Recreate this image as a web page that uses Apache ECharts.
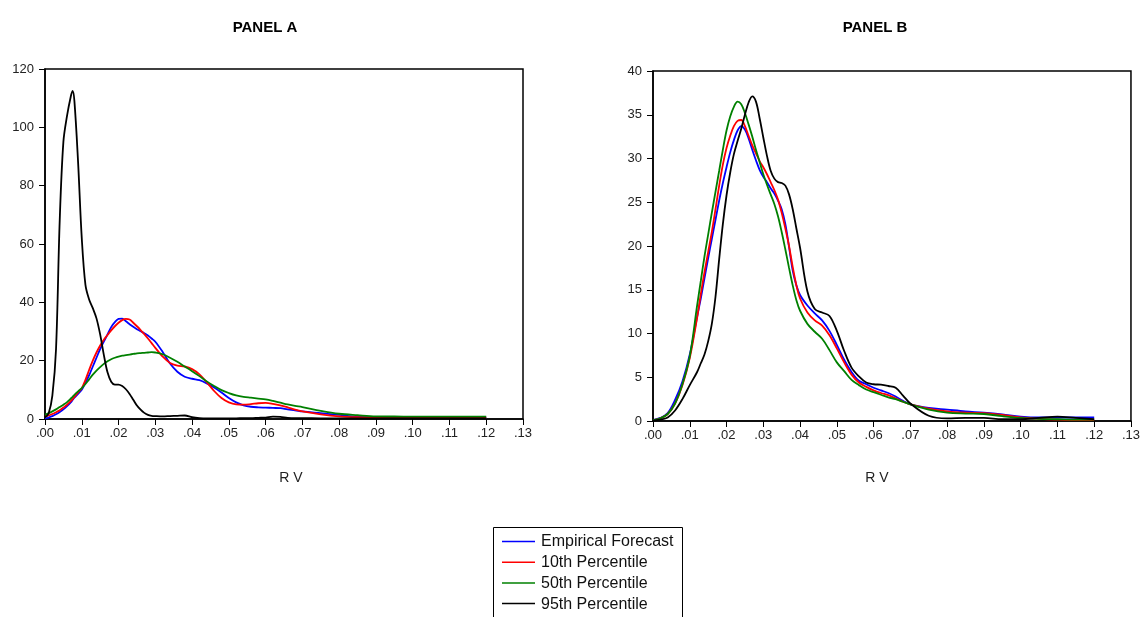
<!DOCTYPE html>
<html>
<head>
<meta charset="utf-8">
<script src="https://cdn.jsdelivr.net/npm/echarts@6/dist/echarts.min.js"></script>
<style>html,body{margin:0;padding:0;background:#fff}#c{width:1143px;height:617px}</style>
</head>
<body>
<div id="c"></div>
<script>
// ---- data ----
const seriesNames = ['Empirical Forecast', '10th Percentile', '50th Percentile', '95th Percentile'];
const seriesColors = ['#0000ff', '#ff0000', '#008000', '#000000'];
const panelTitles = ['PANEL A', 'PANEL B'];
const axisTitle = 'R V';
const xTickLabels = ['.00', '.01', '.02', '.03', '.04', '.05', '.06', '.07', '.08', '.09', '.10', '.11', '.12', '.13'];

// Panel A
const xA = [0, .001, .002, .003, .004, .005, .006, .007, .0075,
  .008, .009, .010, .011, .012, .013, .014, .015, .016, .017, .018, .019, .020, .021, .022, .023, .024, .025, .026, .027, .028, .029, .030,
  .032, .034, .036, .038, .040, .042, .044, .046, .048, .050, .052, .054, .056, .058, .060, .062, .064, .066, .068, .070,
  .075, .080, .085, .090, .095, .100, .105, .110, .115, .120];
const aEmpirical = [0.2, 0.5, 1.0, 1.6, 2.4, 3.3, 4.4, 5.7, 6.5,
  7.3, 8.6, 10.0, 12.5, 15.0, 18.0, 21.0, 24.0, 26.5, 29.0, 31.5, 33.2, 34.3, 34.4, 33.5, 32.5, 31.6, 30.8, 30.1, 29.4, 28.6, 27.6, 26.5,
  23.0, 19.0, 16.2, 14.5, 13.8, 13.3, 12.2, 10.8, 9.1, 7.2, 5.7, 4.7, 4.2, 4.0, 3.9, 3.8, 3.7, 3.3, 3.0, 2.6,
  2.0, 1.4, 0.8, 0.6, 0.5, 0.5, 0.5, 0.5, 0.5, 0.5];
const aP10 = [0.8, 1.2, 1.7, 2.3, 3.0, 3.9, 4.9, 6.1, 6.8,
  7.6, 9.1, 10.6, 13.4, 16.8, 20.0, 22.8, 25.2, 27.2, 28.8, 30.4, 31.8, 33.0, 33.9, 34.3, 34.1, 33.0, 31.8, 30.5, 29.1, 27.6, 26.0, 24.4,
  21.4, 19.2, 18.3, 18.0, 17.1, 15.3, 12.6, 9.6, 7.2, 5.7, 5.0, 4.9, 5.1, 5.4, 5.5, 5.2, 4.7, 4.0, 3.2, 2.6,
  1.6, 0.9, 0.6, 0.5, 0.5, 0.5, 0.5, 0.5, 0.5, 0.5];
const aP50 = [1.5, 2.0, 2.6, 3.3, 4.1, 4.9, 5.8, 7.0, 7.6,
  8.3, 9.5, 10.6, 12.0, 13.6, 15.2, 16.6, 17.8, 18.9, 19.8, 20.5, 21.0, 21.4, 21.7, 21.9, 22.1, 22.3, 22.5, 22.6, 22.7, 22.8, 22.9, 22.8,
  22.2, 21.0, 19.6, 18.0, 16.4, 14.7, 12.9, 11.3, 9.9, 8.9, 8.1, 7.6, 7.3, 7.0, 6.7, 6.2, 5.6, 5.0, 4.5, 4.1,
  2.8, 1.8, 1.3, 0.9, 0.85, 0.8, 0.8, 0.8, 0.8, 0.8];
const aP95 = [0.5, 2, 8, 24, 68, 95, 104, 110.5, 112.5,
  109, 88, 62, 46, 41, 38, 34.5, 29, 22, 16, 12.8, 11.8, 11.8, 11.3, 10.2, 8.6, 6.6, 4.6, 3.2, 2.1, 1.4, 1.1, 1.0,
  0.9, 1.0, 1.1, 1.2, 0.6, 0.3, 0.2, 0.2, 0.2, 0.2, 0.2, 0.3, 0.3, 0.4, 0.5, 0.8, 0.7, 0.4, 0.3, 0.3,
  0.2, 0.2, 0.2, 0.2, 0.2, 0.2, 0.2, 0.2, 0.2, 0.2];

// Panel B
const xB = [0, .002, .004, .006, .008, .010, .012,
  .013, .014, .015, .016, .017, .018, .019, .020, .021, .022, .023, .024, .025, .026, .027, .028, .029, .030,
  .031, .032, .033, .034, .035, .036, .037, .038, .039, .040,
  .042, .044, .046, .048, .050, .052, .054, .056, .058, .060, .062, .064, .066, .068, .070,
  .075, .080, .085, .090, .095, .100, .105, .110, .115, .120];
const bEmpirical = [0.1, 0.35, 0.9, 2.4, 4.5, 7.6, 11.9,
  14.0, 16.3, 18.6, 20.8, 23.0, 25.2, 27.2, 29.0, 30.7, 32.1, 33.2, 33.7, 33.3, 32.3, 31.0, 29.8, 28.7, 27.9,
  27.3, 26.6, 26.0, 25.2, 24.2, 22.5, 19.9, 17.2, 15.5, 14.4,
  13.2, 12.3, 11.5, 10.3, 8.7, 7.0, 5.6, 4.6, 4.2, 3.8, 3.5, 3.2, 2.8, 2.3, 1.9,
  1.5, 1.3, 1.1, 0.95, 0.75, 0.5, 0.4, 0.4, 0.4, 0.4];
const bP10 = [0.1, 0.3, 0.8, 2.0, 4.1, 7.2, 11.8,
  14.5, 17.0, 19.3, 21.6, 24.2, 26.9, 29.3, 31.2, 32.6, 33.7, 34.3, 34.4, 33.7, 32.6, 31.5, 30.6, 29.7, 29.0,
  28.2, 27.3, 26.4, 25.3, 23.8, 22.0, 20.0, 17.6, 15.5, 14.0,
  12.4, 11.5, 10.9, 9.8, 8.3, 6.7, 5.3, 4.4, 3.9, 3.5, 3.2, 2.95, 2.6, 2.2, 1.9,
  1.4, 1.1, 0.95, 0.9, 0.7, 0.4, 0.25, 0.15, 0.1, 0.1];
const bP50 = [0.1, 0.3, 0.8, 2.0, 4.2, 7.4, 13.2,
  16.0, 18.8, 21.3, 23.8, 26.2, 28.6, 31.0, 33.2, 34.8, 35.9, 36.5, 36.2, 35.2, 33.9, 32.5, 31.0, 29.6, 28.2,
  27.0, 25.9, 24.8, 23.4, 21.6, 19.6, 17.5, 15.5, 13.8, 12.6,
  11.1, 10.2, 9.4, 8.1, 6.7, 5.7, 4.7, 4.1, 3.6, 3.3, 3.0, 2.7, 2.5, 2.2, 1.9,
  1.3, 0.95, 0.85, 0.8, 0.55, 0.35, 0.25, 0.2, 0.15, 0.15];
const bP95 = [0.05, 0.15, 0.4, 1.2, 2.5, 4.1, 5.6,
  6.6, 7.6, 9.1, 11.1, 14.2, 18.5, 22.5, 25.8, 28.4, 30.5, 32.0, 33.4, 35.0, 36.4, 37.1, 36.5, 34.6, 32.4,
  30.3, 28.6, 27.7, 27.3, 27.2, 26.9, 25.9, 24.2, 22.0, 19.8,
  14.8, 12.8, 12.4, 12.0, 10.3, 8.0, 6.1, 5.1, 4.4, 4.2, 4.15, 4.0, 3.8, 2.9, 2.0,
  0.6, 0.3, 0.35, 0.35, 0.2, 0.2, 0.35, 0.5, 0.35, 0.2];

// ---- chart ----
const FONT = "'Liberation Sans', Arial, sans-serif";
const pairs = (xs, ys) => xs.map((x, i) => [x, ys[i]]);
const panelASeries = [aEmpirical, aP10, aP50, aP95];
const panelBSeries = [bEmpirical, bP10, bP50, bP95];

function xAxisFor(gi) {
  return {
    type: 'value', gridIndex: gi, min: 0, max: 0.13, interval: 0.01,
    axisLine: { show: true, onZero: false, lineStyle: { color: '#000', width: 1.5 } },
    axisTick: { show: true, inside: false, length: 6, lineStyle: { color: '#000', width: 1 } },
    axisLabel: { margin: 8, fontSize: 13, fontFamily: FONT, color: '#222',
      formatter: v => xTickLabels[Math.round(v * 100)] },
    splitLine: { show: false }
  };
}
function yAxisFor(gi, max, interval) {
  return {
    type: 'value', gridIndex: gi, min: 0, max: max, interval: interval,
    axisLine: { show: true, lineStyle: { color: '#000', width: 1.5 } },
    axisTick: { show: true, inside: false, length: 6, lineStyle: { color: '#000', width: 1 } },
    axisLabel: { margin: 11, fontSize: 13, fontFamily: FONT, color: '#222', padding: [0, 0, 6, 0] },
    splitLine: { show: false }
  };
}

const series = [];
[panelASeries, panelBSeries].forEach((set, p) => {
  const xs = p === 0 ? xA : xB;
  set.forEach((ys, i) => series.push({
    name: seriesNames[i], type: 'line', xAxisIndex: p, yAxisIndex: p,
    data: pairs(xs, ys), smooth: 0.35, symbol: 'none', showSymbol: false,
    lineStyle: { color: seriesColors[i], width: 1.8 }, itemStyle: { color: seriesColors[i] },
    color: seriesColors[i], animation: false
  }));
});

// legend drawn as a boxed key (line sample + label per series)
const legendGraphics = [
  { type: 'rect', shape: { x: 493.5, y: 527.5, width: 189, height: 100 }, style: { fill: 'none', stroke: '#000', lineWidth: 1 } }
];
seriesNames.forEach((n, i) => {
  const yy = 541.5 + i * 20.7;
  legendGraphics.push({ type: 'line', shape: { x1: 502, y1: yy, x2: 535, y2: yy },
    style: { stroke: seriesColors[i], lineWidth: 1.5 } });
  legendGraphics.push({ type: 'text', x: 541, y: yy + 0.5, style: { text: n, textAlign: 'left', textVerticalAlign: 'middle',
    font: '16px ' + FONT, fill: '#111' } });
});

const chart = echarts.init(document.getElementById('c'), null, { renderer: 'canvas' });
chart.setOption({
  backgroundColor: '#fff',
  animation: false,
  color: seriesColors,
  grid: [
    { left: 45, top: 69, width: 478, height: 350, show: true, borderColor: '#000', borderWidth: 1.5, backgroundColor: 'transparent' },
    { left: 653, top: 71, width: 479, height: 350, show: true, borderColor: '#000', borderWidth: 1.5, backgroundColor: 'transparent' }
  ],
  xAxis: [xAxisFor(0), xAxisFor(1)],
  yAxis: [yAxisFor(0, 120, 20), yAxisFor(1, 40, 5)],
  graphic: legendGraphics.concat([
    { type: 'text', x: 265, y: 28, style: { text: panelTitles[0], textAlign: 'center', textVerticalAlign: 'middle', font: 'bold 15px ' + FONT, fill: '#000' } },
    { type: 'text', x: 875, y: 28, style: { text: panelTitles[1], textAlign: 'center', textVerticalAlign: 'middle', font: 'bold 15px ' + FONT, fill: '#000' } },
    { type: 'text', x: 291, y: 478, style: { text: axisTitle, textAlign: 'center', textVerticalAlign: 'middle', font: '14px ' + FONT, fill: '#222' } },
    { type: 'text', x: 877, y: 478, style: { text: axisTitle, textAlign: 'center', textVerticalAlign: 'middle', font: '14px ' + FONT, fill: '#222' } }
  ]),
  series: series
});
</script>
</body>
</html>
